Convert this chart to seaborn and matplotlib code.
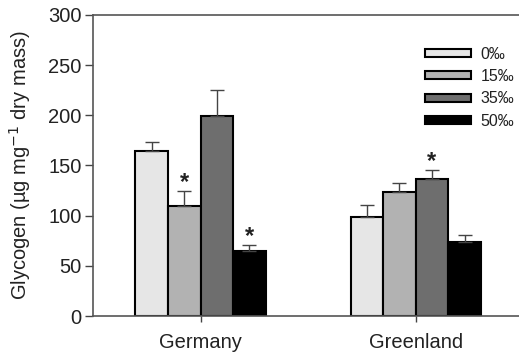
import matplotlib
matplotlib.use("Agg")
import matplotlib.pyplot as plt
import seaborn as sns
import pandas as pd
import numpy as np

sites = ["Germany", "Greenland"]
salinity = ["0‰", "15‰", "35‰", "50‰"]
means = {
    "0‰": [164, 99],
    "15‰": [110, 124],
    "35‰": [199, 137],
    "50‰": [64.5, 74],
}
errs = {
    "0‰": [9.5, 11.5],
    "15‰": [15, 8.5],
    "35‰": [26.5, 9],
    "50‰": [6.5, 7],
}
signif = {
    "0‰": [False, False],
    "15‰": [True, False],
    "35‰": [False, True],
    "50‰": [True, False],
}
colors = ["#e6e6e6", "#b2b2b2", "#6e6e6e", "#000000"]

rows = []
for s in salinity:
    for i, site in enumerate(sites):
        rows.append({"site": site, "salinity": s, "value": means[s][i]})
df = pd.DataFrame(rows)

sns.set_style("ticks")
plt.rcParams['font.family'] = ['Liberation Sans', 'DejaVu Sans']

fig = plt.figure(figsize=(5.19, 3.54), dpi=100)
ax = fig.add_axes([0.179, 0.107, 0.821, 0.851])

sns.barplot(data=df, x="site", y="value", hue="salinity", order=sites,
            hue_order=salinity, palette=colors, width=0.605, errorbar=None,
            edgecolor="black", linewidth=1.5, ax=ax, legend=True, saturation=1)

for hi, s in enumerate(salinity):
    cont = ax.containers[hi]
    for bi, bar in enumerate(cont):
        xc = bar.get_x() + bar.get_width() / 2
        h = bar.get_height()
        ax.errorbar([xc], [h], yerr=[[0], [errs[s][bi]]], fmt="none",
                    ecolor="#444444", elinewidth=1, capsize=5, capthick=1, zorder=1)
        if signif[s][bi]:
            ax.text(xc, h + errs[s][bi] + 8, "*", ha="center", va="center",
                    fontsize=17, fontweight="bold", color="#222222")

ax.set_ylim(0, 300)
ax.set_xlim(-0.5, 1.48)
ax.set_yticks([0, 50, 100, 150, 200, 250, 300])
ax.tick_params(axis="y", labelsize=14.5, length=6, width=1, color="#444444", pad=2, labelcolor="#222222")
ax.tick_params(axis="x", labelsize=14.5, length=4, width=1, color="#444444", pad=8, labelcolor="#222222")
ax.set_xlabel("")
ax.set_ylabel("Glycogen (µg mg$^{-1}$ dry mass)", fontsize=14.5, color="#222222", labelpad=11)

for sp in ["left", "bottom", "top"]:
    ax.spines[sp].set_visible(True)
    ax.spines[sp].set_color("#555555")
    ax.spines[sp].set_linewidth(1.2)
ax.spines["right"].set_visible(False)

leg = ax.legend(loc="upper left", bbox_to_anchor=(0.76, 0.92), frameon=False,
                fontsize=11.5, handlelength=2.9, handleheight=0.4,
                labelspacing=0.45, handletextpad=0.6, borderpad=0)
for t in leg.get_texts():
    t.set_color("#222222")

fig.savefig("out.png", dpi=100)
